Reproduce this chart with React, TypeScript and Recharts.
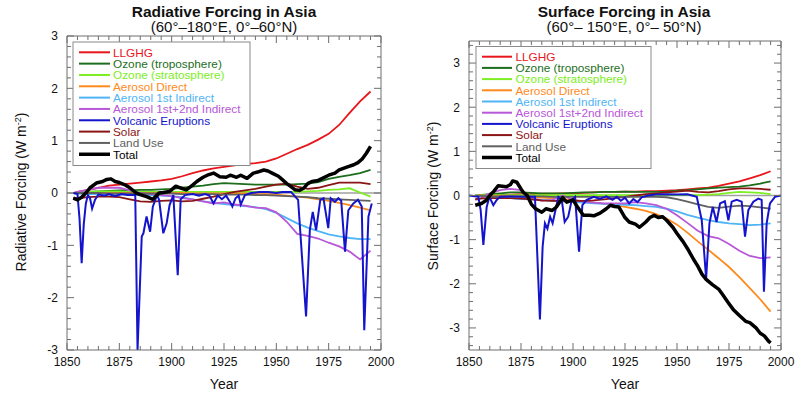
import React from 'react';
import { LineChart, Line, XAxis, YAxis, ReferenceLine } from 'recharts';

// ---- data ----
const YEARS = [1853, 1855, 1860, 1865, 1870, 1875, 1880, 1885, 1890, 1895, 1900, 1905, 1910, 1915, 1920,
  1925, 1930, 1935, 1940, 1945, 1950, 1955, 1960, 1965, 1970, 1975, 1980, 1985, 1990, 1995];

// Radiative forcing, 60-180E 0-60N
const RF_LLGHG = [0, 0.02, 0.06, 0.1, 0.14, 0.16, 0.18, 0.2, 0.22, 0.24, 0.27, 0.32, 0.38, 0.43, 0.47,
  0.5, 0.53, 0.55, 0.57, 0.6, 0.66, 0.75, 0.84, 0.92, 1.02, 1.13, 1.3, 1.53, 1.75, 1.94];
const RF_O3_TROP = [0, 0, 0.02, 0.03, 0.04, 0.05, 0.05, 0.06, 0.06, 0.07, 0.08, 0.1, 0.12, 0.14, 0.17,
  0.19, 0.18, 0.17, 0.16, 0.16, 0.16, 0.16, 0.17, 0.18, 0.21, 0.27, 0.31, 0.34, 0.38, 0.44];
const RF_O3_STRAT = [0, 0.01, 0.02, 0.03, 0.03, 0.03, 0.02, 0.02, 0.02, 0.02, 0.02, 0.02, 0.02, 0.02, 0.02,
  0.02, 0.02, 0.02, 0.02, 0.02, 0.02, 0.02, 0.02, 0.03, 0.04, 0.06, 0.07, 0.09, 0.01, -0.07];
const RF_AER_DIRECT = [0, 0, 0, 0, 0, 0, 0, 0, 0, 0, 0, 0, -0.01, -0.01, -0.01,
  -0.01, -0.01, -0.01, -0.02, -0.02, -0.03, -0.05, -0.07, -0.09, -0.12, -0.15, -0.19, -0.23, -0.28, -0.33];
const RF_AER_IND1 = [0, -0.01, -0.02, -0.02, -0.03, -0.03, -0.03, -0.04, -0.04, -0.05, -0.06, -0.08, -0.12, -0.16, -0.19,
  -0.21, -0.23, -0.25, -0.27, -0.31, -0.38, -0.48, -0.58, -0.66, -0.73, -0.79, -0.83, -0.86, -0.88, -0.88];
const RF_AER_IND12 = [0, 0.02, 0.06, 0.1, 0.1, 0.1, 0.05, 0, -0.02, -0.04, -0.06, -0.1, -0.12, -0.16, -0.2,
  -0.18, -0.22, -0.24, -0.28, -0.29, -0.37, -0.55, -0.78, -0.82, -0.87, -0.95, -1.02, -1.12, -1.27, -1.1];
const RF_SOLAR = [-0.1, -0.1, -0.08, -0.07, -0.07, -0.08, -0.12, -0.16, -0.17, -0.15, -0.14, -0.16, -0.15, -0.11, -0.07,
  -0.02, 0.02, 0.05, 0.08, 0.12, 0.16, 0.18, 0.12, 0.08, 0.1, 0.15, 0.2, 0.2, 0.2, 0.17];
const RF_LAND = [0, 0, 0, 0, -0.01, -0.01, -0.01, -0.01, -0.01, -0.01, -0.01, -0.02, -0.02, -0.02, -0.02,
  -0.03, -0.03, -0.03, -0.04, -0.04, -0.05, -0.06, -0.07, -0.08, -0.1, -0.11, -0.12, -0.13, -0.14, -0.15];

const RF_TOTAL_YEARS = [1853, 1855, 1857, 1859, 1861, 1864, 1867, 1869, 1871, 1873, 1875, 1878, 1880, 1883, 1885,
  1888, 1891, 1894, 1896, 1899, 1902, 1904, 1907, 1910, 1912, 1915, 1917, 1920, 1923, 1926, 1928, 1931, 1933,
  1936, 1939, 1941, 1944, 1946, 1948, 1951, 1953, 1955, 1957, 1959, 1961, 1963, 1965, 1967, 1970, 1972, 1975,
  1978, 1980, 1982, 1984, 1987, 1989, 1991, 1993, 1995];
const RF_TOTAL = [-0.1, -0.13, -0.08, 0, 0.1, 0.19, 0.22, 0.26, 0.27, 0.22, 0.2, 0.15, 0.1, 0, -0.03,
  -0.07, -0.12, 0, 0.01, 0.03, 0.13, 0.1, 0.06, 0.15, 0.22, 0.3, 0.34, 0.38, 0.31, 0.3, 0.34, 0.3, 0.34,
  0.28, 0.38, 0.4, 0.44, 0.42, 0.38, 0.32, 0.25, 0.18, 0.12, 0.06, 0.05, 0.09, 0.18, 0.22, 0.24, 0.28, 0.34,
  0.38, 0.44, 0.47, 0.5, 0.54, 0.58, 0.65, 0.76, 0.89];

const RF_VOLC_YEARS = [1853, 1855, 1856, 1857, 1858, 1859, 1860, 1861, 1862, 1863.4, 1865, 1868, 1870, 1873, 1876,
  1879, 1882.6, 1883.7, 1885.7, 1886.5, 1888, 1889.7, 1891, 1893, 1894, 1896, 1897.6, 1899, 1900.8, 1902.9,
  1904.3, 1906.4, 1910, 1913, 1916, 1918, 1920, 1922, 1924, 1926, 1928, 1929, 1930.5, 1932, 1933, 1935,
  1938, 1942, 1946, 1950, 1953, 1957, 1960.4, 1964.2, 1966, 1967.4, 1969, 1971, 1972.5, 1974.8, 1976, 1978,
  1979.6, 1981, 1982.8, 1984.4, 1986.8, 1989, 1990.8, 1992, 1994, 1995.6];
const RF_VOLC = [0, -0.02, -0.5, -1.34, -0.6, -0.2, -0.04, -0.1, -0.3, -0.13, -0.03, -0.05, -0.02, -0.06, -0.02,
  -0.04, -0.04, -3.0, -0.83, -0.77, -0.45, -0.74, -0.26, -0.04, -0.13, -0.77, -0.58, -0.23, -0.04, -1.57,
  -0.12, -0.04, -0.02, -0.05, -0.02, -0.05, -0.2, -0.05, -0.12, -0.05, -0.18, -0.26, -0.1, -0.05, -0.22, -0.04,
  0, 0.02, 0.02, 0, 0.02, 0.02, -0.13, -2.36, -0.71, -0.36, -0.71, -0.13, -0.1, -0.67, -0.1, -0.17,
  -0.1, -0.15, -1.12, -0.33, -0.2, -0.13, -0.26, -2.62, -0.45, -0.2];

// Surface forcing, 60-150E 0-50N
const SF_LLGHG = [0, 0, 0.01, 0.02, 0.02, 0.03, 0.03, 0.04, 0.04, 0.05, 0.05, 0.06, 0.07, 0.08, 0.08,
  0.09, 0.09, 0.1, 0.1, 0.11, 0.12, 0.14, 0.16, 0.18, 0.22, 0.27, 0.32, 0.39, 0.46, 0.55];
const SF_O3_TROP = [0, 0.01, 0.03, 0.05, 0.07, 0.07, 0.06, 0.05, 0.05, 0.05, 0.06, 0.07, 0.07, 0.08, 0.08,
  0.09, 0.08, 0.08, 0.08, 0.09, 0.11, 0.12, 0.14, 0.16, 0.18, 0.19, 0.2, 0.23, 0.27, 0.32];
const SF_O3_STRAT = [0, 0, 0.01, 0.01, 0.01, 0.01, 0.01, 0.01, 0.01, 0.01, 0.01, 0.01, 0.01, 0.01, 0.01,
  0.01, 0.01, 0.01, 0.01, 0.01, 0.01, 0.01, 0.01, 0.02, 0.03, 0.06, 0.08, 0.07, 0.06, 0.03];
const SF_AER_DIRECT = [0, 0, -0.01, -0.01, -0.02, -0.03, -0.04, -0.05, -0.06, -0.08, -0.1, -0.13, -0.16, -0.19, -0.22,
  -0.26, -0.3, -0.35, -0.42, -0.52, -0.66, -0.84, -1.04, -1.23, -1.42, -1.62, -1.85, -2.1, -2.35, -2.63];
const SF_AER_IND1 = [0, -0.01, -0.03, -0.05, -0.06, -0.08, -0.09, -0.1, -0.12, -0.13, -0.15, -0.16, -0.18, -0.19, -0.2,
  -0.21, -0.22, -0.24, -0.26, -0.3, -0.36, -0.44, -0.5, -0.56, -0.6, -0.63, -0.65, -0.67, -0.66, -0.63];
const SF_AER_IND12 = [-0.1, -0.08, 0.05, 0.12, 0.15, 0.12, -0.05, -0.12, -0.1, 0, -0.1, -0.14, -0.16, -0.18, -0.18,
  -0.18, -0.15, -0.18, -0.22, -0.3, -0.45, -0.62, -0.8, -0.92, -0.97, -1.1, -1.25, -1.37, -1.42, -1.4];
const SF_SOLAR = [-0.08, -0.07, -0.06, -0.06, -0.06, -0.07, -0.09, -0.11, -0.12, -0.12, -0.12, -0.12, -0.11, -0.09, -0.06,
  -0.03, 0, 0.03, 0.05, 0.07, 0.09, 0.11, 0.08, 0.07, 0.1, 0.14, 0.16, 0.16, 0.15, 0.13];
const SF_LAND = [-0.01, -0.01, -0.02, -0.02, -0.02, -0.02, -0.02, -0.02, -0.03, -0.03, -0.03, -0.03, -0.03, -0.03, -0.03,
  -0.03, -0.03, -0.03, -0.03, -0.04, -0.08, -0.14, -0.2, -0.26, -0.28, -0.25, -0.23, -0.24, -0.27, -0.3];

const SF_TOTAL_YEARS = [1853, 1856, 1858, 1860, 1862, 1864, 1866, 1868, 1870, 1871, 1873, 1875, 1876, 1878, 1880,
  1882, 1885, 1887, 1890, 1892, 1895, 1897, 1900, 1902, 1905, 1908, 1910, 1913, 1916, 1918, 1920, 1922, 1925,
  1927, 1930, 1932, 1935, 1937, 1939, 1941, 1943, 1945, 1948, 1950, 1953, 1955, 1958, 1960, 1962, 1964, 1967,
  1970, 1972, 1975, 1977, 1980, 1983, 1985, 1988, 1990, 1992, 1994, 1995];
const SF_TOTAL = [-0.22, -0.18, -0.12, 0, 0.1, 0.22, 0.21, 0.2, 0.25, 0.33, 0.3, 0.15, 0.08, 0, -0.2,
  -0.3, -0.38, -0.3, -0.34, -0.26, -0.05, -0.15, -0.1, -0.25, -0.45, -0.45, -0.46, -0.4, -0.3, -0.22, -0.25, -0.26, -0.5,
  -0.6, -0.65, -0.72, -0.6, -0.5, -0.45, -0.5, -0.48, -0.56, -0.72, -0.86, -1.05, -1.2, -1.45, -1.6, -1.78, -1.9, -2.02,
  -2.12, -2.25, -2.45, -2.58, -2.72, -2.85, -2.88, -3.0, -3.12, -3.18, -3.3, -3.34];

const SF_VOLC_YEARS = [1850, 1854.5, 1855.6, 1856.9, 1858.5, 1859.8, 1861.7, 1863.3, 1865, 1870, 1875, 1881.7, 1884.1,
  1885.4, 1886.5, 1887.7, 1889, 1890.2, 1891.4, 1893, 1894.6, 1896, 1897.7, 1899.4, 1901, 1902.9, 1904.5, 1906.6,
  1910, 1913, 1916, 1919, 1921, 1923, 1925, 1927, 1929, 1931, 1933, 1936, 1940, 1945, 1950, 1955, 1959.5,
  1961.9, 1964, 1965.6, 1967.2, 1969, 1970.7, 1973, 1974.7, 1976.3, 1978.7, 1981.1, 1982.7, 1984.3, 1986.7,
  1989.1, 1990.7, 1991.8, 1993.1, 1994.7, 1997.1, 2000];
const SF_VOLC = [0, -0.03, -0.33, -1.12, -0.26, -0.03, -0.22, -0.1, -0.03, -0.02, -0.03, -0.03, -2.81,
  -1.16, -0.63, -0.75, -0.48, -0.63, -0.37, -0.03, -0.1, -0.6, -0.48, -0.1, -0.03, -1.27, -0.22, -0.1,
  -0.03, -0.08, -0.02, -0.1, -0.03, -0.12, -0.05, -0.18, -0.08, -0.15, -0.04, 0, 0.02, 0.03, 0.02, 0.03, -0.03,
  -0.56, -1.88, -0.63, -0.26, -0.6, -0.18, -0.13, -0.56, -0.14, -0.1, -0.14, -0.93, -0.33, -0.14,
  -0.07, -0.1, -2.18, -0.63, -0.18, -0.03, 0];

const LABELS = ['LLGHG', 'Ozone (troposphere)', 'Ozone (stratosphere)', 'Aerosol Direct', 'Aerosol 1st Indirect',
  'Aerosol 1st+2nd Indirect', 'Volcanic Eruptions', 'Solar', 'Land Use', 'Total'];

// ---- styling ----
const FONT = "'Liberation Sans', Arial, Helvetica, sans-serif";
const FRAME = '#6e6e6e';
const INK = '#111';

const SERIES = [
  { key: 'llghg', color: '#e8161b', width: 1.8 },
  { key: 'o3trop', color: '#1c6e1c', width: 1.8 },
  { key: 'o3strat', color: '#7cee22', width: 1.8 },
  { key: 'direct', color: '#ff8a1c', width: 1.8 },
  { key: 'ind1', color: '#4fb4f5', width: 1.8 },
  { key: 'ind12', color: '#b857d8', width: 1.8 },
  { key: 'volc', color: '#1414cc', width: 2 },
  { key: 'solar', color: '#8b1414', width: 1.8 },
  { key: 'land', color: '#606060', width: 1.8 },
  { key: 'total', color: '#000000', width: 3.5 },
];

const X_TICKS = Array.from({ length: 31 }, (_, i) => 1850 + i * 5);
const steps = (lo: number, hi: number) =>
  Array.from({ length: Math.round((hi - lo) / 0.2) + 1 }, (_, i) => Math.round((lo + i * 0.2) * 10) / 10);
const isMajor = (v: number) => Math.abs(v - Math.round(v)) < 1e-6;

const buildRows = (cols: Record<string, number[]>) =>
  YEARS.map((year, i) => {
    const row: Record<string, number> = { year };
    Object.entries(cols).forEach(([k, v]) => { row[k] = v[i]; });
    return row;
  });

const pairRows = (years: number[], values: number[], key: string) =>
  years.map((year, i) => ({ year, [key]: values[i] }));

const RF_ROWS = buildRows({
  llghg: RF_LLGHG, o3trop: RF_O3_TROP, o3strat: RF_O3_STRAT, direct: RF_AER_DIRECT,
  ind1: RF_AER_IND1, ind12: RF_AER_IND12, solar: RF_SOLAR, land: RF_LAND,
});
const SF_ROWS = buildRows({
  llghg: SF_LLGHG, o3trop: SF_O3_TROP, o3strat: SF_O3_STRAT, direct: SF_AER_DIRECT,
  ind1: SF_AER_IND1, ind12: SF_AER_IND12, solar: SF_SOLAR, land: SF_LAND,
});

// ---- inward tick marks (tickSize 0 puts x/y right on the frame) ----
const BottomTick = ({ x, y, payload }: any) => {
  const major = payload.value % 25 === 0;
  return (
    <g>
      <line x1={x} x2={x} y1={y} y2={y - (major ? 7 : 4)} stroke={FRAME} />
      {major && (
        <text x={x} y={y + 16} textAnchor="middle" fontSize={12} fill={INK} fontFamily={FONT}>{payload.value}</text>
      )}
    </g>
  );
};
const TopTick = ({ x, y, payload }: any) => (
  <line x1={x} x2={x} y1={y} y2={y + (payload.value % 25 === 0 ? 7 : 4)} stroke={FRAME} />
);
const LeftTick = ({ x, y, payload }: any) => {
  const major = isMajor(payload.value);
  return (
    <g>
      <line x1={x} x2={x + (major ? 7 : 4)} y1={y} y2={y} stroke={FRAME} />
      {major && (
        <text x={x - 9} y={y} dy="0.36em" textAnchor="end" fontSize={12} fill={INK} fontFamily={FONT}>
          {Math.round(payload.value)}
        </text>
      )}
    </g>
  );
};
const RightTick = ({ x, y, payload }: any) => (
  <line x1={x} x2={x - (isMajor(payload.value) ? 7 : 4)} y1={y} y2={y} stroke={FRAME} />
);

interface PanelProps {
  left: number;
  plotTop: number;
  plotLeft: number;
  domain: [number, number];
  yTicks: number[];
  rows: Record<string, number>[];
  totalRows: Record<string, number>[];
  volcRows: Record<string, number>[];
}

const LEFT_AXIS_W = 40;
const RIGHT_AXIS_W = 10;
const BOTTOM_AXIS_H = 30;
const TOP_AXIS_H = 10;

const ForcingPanel = ({ left, plotTop, plotLeft, domain, yTicks, rows, totalRows, volcRows }: PanelProps) => (
  <div style={{ position: 'absolute', left, top: 0 }}>
    <LineChart width={400} height={397} data={rows}
      margin={{ top: plotTop - TOP_AXIS_H, right: 19 - RIGHT_AXIS_W, bottom: 47 - BOTTOM_AXIS_H, left: plotLeft - LEFT_AXIS_W }}>
      <XAxis dataKey="year" type="number" domain={[1850, 2000]} ticks={X_TICKS} interval={0} height={BOTTOM_AXIS_H}
        tickSize={0} tickMargin={0} tickLine={false} axisLine={{ stroke: FRAME }} tick={(p: any) => <BottomTick {...p} />}
        allowDataOverflow />
      <XAxis xAxisId="top" orientation="top" dataKey="year" type="number" domain={[1850, 2000]} ticks={X_TICKS}
        interval={0} height={TOP_AXIS_H} tickSize={0} tickMargin={0} tickLine={false} axisLine={{ stroke: FRAME }}
        tick={(p: any) => <TopTick {...p} />} allowDataOverflow />
      <YAxis type="number" domain={domain} ticks={yTicks} interval={0} width={LEFT_AXIS_W} tickSize={0} tickMargin={0}
        tickLine={false} axisLine={{ stroke: FRAME }} tick={(p: any) => <LeftTick {...p} />} allowDataOverflow />
      <YAxis yAxisId="right" orientation="right" type="number" domain={domain} ticks={yTicks} interval={0}
        width={RIGHT_AXIS_W} tickSize={0} tickMargin={0} tickLine={false} axisLine={{ stroke: FRAME }}
        tick={(p: any) => <RightTick {...p} />} allowDataOverflow />
      <ReferenceLine y={0} stroke="#a0a0a0" strokeWidth={1.5} />
      {SERIES.filter((s) => s.key !== 'volc' && s.key !== 'total').map((s) => (
        <Line key={s.key} type="linear" dataKey={s.key} stroke={s.color} strokeWidth={s.width} dot={false}
          isAnimationActive={false} />
      ))}
      <Line data={volcRows} type="linear" dataKey="volc" stroke={SERIES[6].color} strokeWidth={SERIES[6].width}
        dot={false} isAnimationActive={false} />
      <Line data={totalRows} type="linear" dataKey="total" stroke={SERIES[9].color} strokeWidth={SERIES[9].width}
        dot={false} isAnimationActive={false} strokeLinejoin="round" />
    </LineChart>
  </div>
);

const LegendBox = ({ x, y, w, h, row0, rowStep, lineX0, lineX1, textX }: any) => (
  <g>
    <rect x={x} y={y} width={w} height={h} fill="#fff" stroke="#8a8a8a" strokeWidth={1} />
    {SERIES.map((s, i) => {
      const cy = row0 + i * rowStep;
      return (
        <g key={s.key}>
          <line x1={lineX0} x2={lineX1} y1={cy} y2={cy} stroke={s.color} strokeWidth={s.key === 'total' ? 3.5 : 2} />
          <text x={textX} y={cy} dy="0.36em" fontSize={11.8} fill={s.color} fontFamily={FONT}>{LABELS[i]}</text>
        </g>
      );
    })}
  </g>
);

const YLabel = ({ x, y, text }: { x: number; y: number; text: string }) => (
  <text x={x} y={y} transform={`rotate(-90, ${x}, ${y})`} textAnchor="middle" fontSize={14} fill={INK} fontFamily={FONT}>
    {text} (W m<tspan dy={-5} fontSize={9}>-2</tspan><tspan dy={5}>)</tspan>
  </text>
);

export default function App() {
  return (
    <div style={{ position: 'absolute', left: 0, top: 0, width: 800, height: 397, background: '#fff', overflow: 'hidden' }}>
      <ForcingPanel left={0} plotTop={36} plotLeft={67} domain={[-3, 3]}
        yTicks={steps(-3, 3)} rows={RF_ROWS} totalRows={pairRows(RF_TOTAL_YEARS, RF_TOTAL, 'total')}
        volcRows={pairRows(RF_VOLC_YEARS, RF_VOLC, 'volc')} />
      <ForcingPanel left={400} plotTop={41} plotLeft={69} domain={[-3.5, 3.5]}
        yTicks={steps(-3.4, 3.4)} rows={SF_ROWS} totalRows={pairRows(SF_TOTAL_YEARS, SF_TOTAL, 'total')}
        volcRows={pairRows(SF_VOLC_YEARS, SF_VOLC, 'volc')} />
      <svg width={800} height={397} style={{ position: 'absolute', left: 0, top: 0, pointerEvents: 'none' }}>
        <text x={224} y={16.5} textAnchor="middle" fontSize={15.5} fontWeight="bold" fill={INK} fontFamily={FONT}>
          Radiative Forcing in Asia
        </text>
        <text x={224} y={31.5} textAnchor="middle" fontSize={15} fill={INK} fontFamily={FONT}>
          (60°–180°E, 0°–60°N)
        </text>
        <text x={624} y={16.5} textAnchor="middle" fontSize={15.5} fontWeight="bold" fill={INK} fontFamily={FONT}>
          Surface Forcing in Asia
        </text>
        <text x={624} y={31.5} textAnchor="middle" fontSize={15} fill={INK} fontFamily={FONT}>
          (60°– 150°E, 0°– 50°N)
        </text>
        <YLabel x={26} y={192} text="Radiative Forcing" />
        <YLabel x={438} y={196} text="Surface Forcing" />
        <text x={224} y={389} textAnchor="middle" fontSize={14} fill={INK} fontFamily={FONT}>Year</text>
        <text x={625} y={389} textAnchor="middle" fontSize={14} fill={INK} fontFamily={FONT}>Year</text>
        <LegendBox x={73} y={42} w={177} h={123.5} row0={52.3} rowStep={11.33} lineX0={79} lineX1={110} textX={113} />
        <LegendBox x={476} y={46.5} w={175} h={122} row0={56.7} rowStep={11.2} lineX0={482} lineX1={512} textX={515.5} />
      </svg>
    </div>
  );
}
